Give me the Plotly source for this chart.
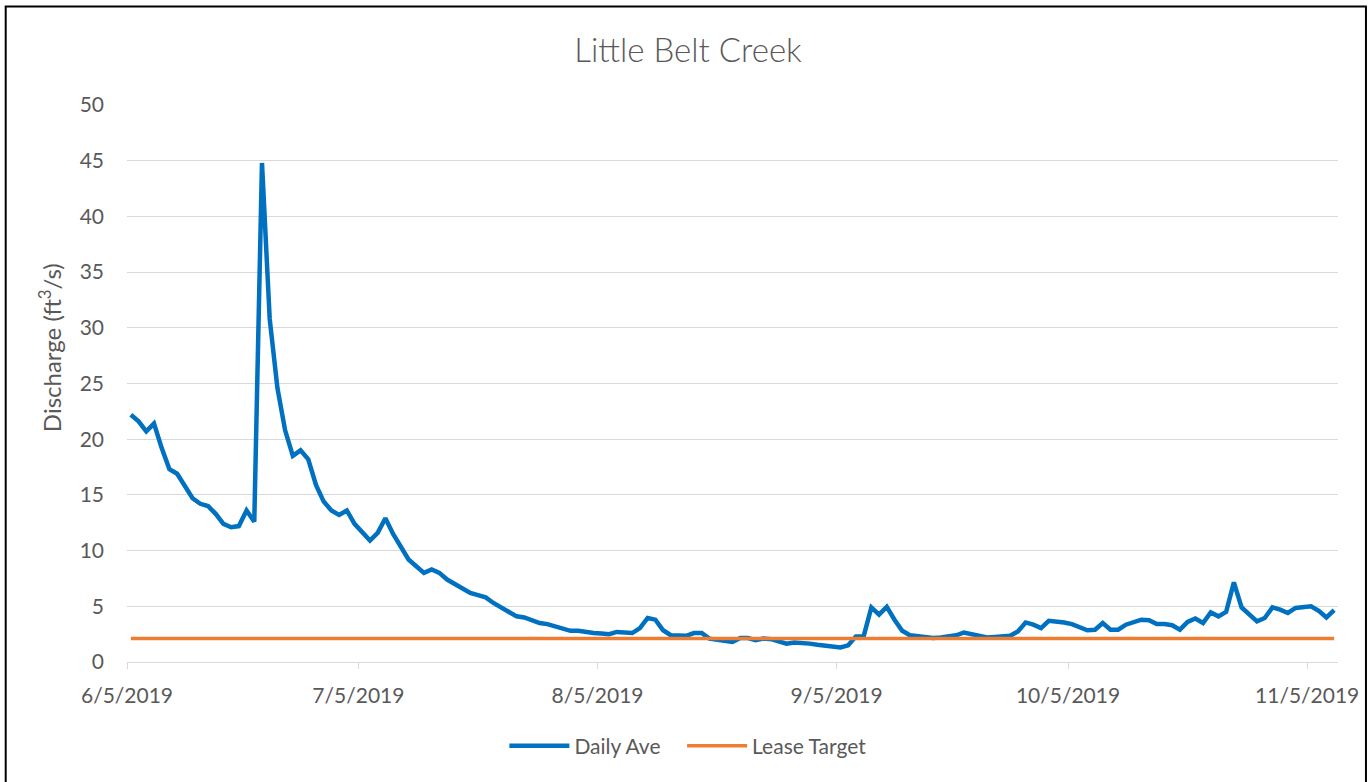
import pandas as pd
import plotly.graph_objects as go

# ---- data ----
start_date = "2019-06-05"
daily_ave = [
    22.2, 21.6, 20.7, 21.4, 19.2, 17.3, 16.9, 15.7, 14.7, 14.2,
    14.0, 13.3, 12.4, 12.1, 12.2, 13.6, 12.6, 44.8, 30.8, 24.6,
    20.8, 18.5, 19.0, 18.2, 15.9, 14.4, 13.6, 13.2, 13.6, 12.4,
    11.6, 10.9, 11.6, 12.9, 11.5, 10.3, 9.2, 8.6, 8.0, 8.3,
    8.0, 7.4, 7.0, 6.5, 6.2, 6.0, 5.8, 5.3, 4.9, 4.6,
    4.1, 4.0, 3.7, 3.5, 3.4, 3.2, 3.0, 2.8, 2.8, 2.65,
    2.6, 2.55, 2.5, 2.7, 2.65, 2.6, 3.05, 3.95, 3.8, 2.85,
    2.4, 2.4, 2.35, 2.6, 2.6, 2.1, 2.0, 1.9, 1.8, 2.15,
    2.15, 1.95, 2.1, 2.05, 1.85, 1.65, 1.75, 1.75, 1.65, 1.55,
    1.45, 1.35, 1.3, 1.5, 2.3, 2.3, 4.9, 4.25, 4.95, 3.8,
    2.8, 2.4, 2.3, 2.15, 2.15, 2.2, 2.3, 2.4, 2.65, 2.5,
    2.3, 2.2, 2.25, 2.3, 2.35, 2.75, 3.55, 3.35, 3.05, 3.7,
    3.65, 3.55, 3.4, 3.1, 2.85, 2.9, 3.5, 2.9, 2.9, 3.35,
    3.6, 3.8, 3.75, 3.4, 3.4, 3.3, 2.9, 3.6, 3.9, 3.5,
    4.45, 4.1, 4.5, 7.15, 4.9, 4.25, 3.65, 3.95, 4.9, 4.7,
    4.4, 4.85, 4.9, 5.0, 4.6, 4.0, 4.65,
]
lease_target_value = 2.1
tick_dates = ["2019-06-05", "2019-07-05", "2019-08-05", "2019-09-05", "2019-10-05", "2019-11-05"]
tick_labels = ["6/5/2019", "7/5/2019", "8/5/2019", "9/5/2019", "10/5/2019", "11/5/2019"]
y_ticks = [0, 5, 10, 15, 20, 25, 30, 35, 40, 45, 50]

dates = pd.date_range(start_date, periods=len(daily_ave), freq="D") + pd.Timedelta(hours=12)
lease_target = [lease_target_value for _ in dates]

FONT = "Lato"
GREY = "#595959"

fig = go.Figure()
fig.add_trace(go.Scatter(x=dates, y=daily_ave, mode="lines", name="Daily Ave",
                         line=dict(color="#0070C0", width=4.5), legend="legend"))
fig.add_trace(go.Scatter(x=dates, y=lease_target, mode="lines", name="Lease Target",
                         line=dict(color="#ED7D31", width=3.5), legend="legend2"))

L, R, T, B = 127, 31, 105, 120
W, H = 1371, 782
pw, ph = W - L - R, H - T - B

legend_common = dict(orientation="h", xanchor="left", y=(H - B - 746) / ph, yanchor="middle",
                     font=dict(family=FONT, size=21, color=GREY), itemwidth=60,
                     bgcolor="rgba(0,0,0,0)")

fig.update_layout(
    width=W, height=H,
    margin=dict(l=L, r=R, t=T, b=B),
    paper_bgcolor="white", plot_bgcolor="white",
    font=dict(family=FONT, color=GREY, size=21),
    title=dict(text="Little Belt Creek", x=688 / W, xanchor="center",
               y=1 - 50 / H, yanchor="middle",
               font=dict(family=FONT, size=33, color=GREY, weight=300)),
    showlegend=True,
    legend=dict(x=(505 - L) / pw, **legend_common),
    legend2=dict(x=(683 - L) / pw, **legend_common),
    xaxis=dict(
        type="date",
        range=["2019-06-05", "2019-11-09"],
        tickvals=tick_dates, ticktext=tick_labels,
        showgrid=False, showline=True, linecolor="#D9D9D9", linewidth=1,
        ticks="outside", ticklen=6, tickcolor="#D9D9D9", tickwidth=1,
        tickfont=dict(family=FONT, size=21, color=GREY),
        ticklabelstandoff=9,
        zeroline=False,
    ),
    yaxis=dict(
        range=[0, 50], tickvals=y_ticks,
        showgrid=True, gridcolor="#D9D9D9", gridwidth=1,
        showline=False, zeroline=False, ticks="",
        tickfont=dict(family=FONT, size=21, color=GREY),
        ticklabelstandoff=22,
    ),
    annotations=[dict(text="Discharge (ft<sup>3</sup>/s)", textangle=-90, showarrow=False,
                      xref="paper", yref="paper", x=(50 - L) / pw, y=(H - B - 348) / ph,
                      xanchor="center", yanchor="middle",
                      font=dict(family=FONT, size=24, color=GREY))],
    shapes=[dict(type="rect", xref="paper", yref="paper",
                 x0=(5.5 - L) / pw, x1=(1368 - L) / pw,
                 y0=(H - B - 800) / ph, y1=(H - B - 6.5) / ph,
                 line=dict(color="black", width=2), fillcolor="rgba(0,0,0,0)", layer="above")],
)

fig.write_html("out.html", config={"displayModeBar": False},
               post_script="document.body.style.margin='0px';document.body.style.overflow='hidden';")
